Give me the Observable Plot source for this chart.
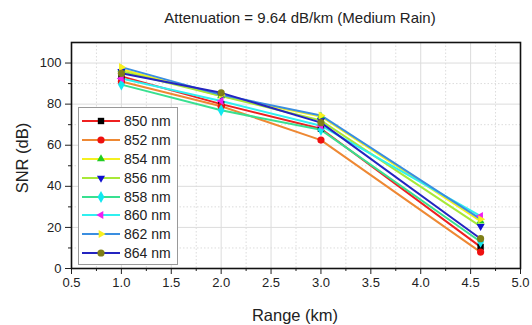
<!DOCTYPE html>
<html><head><meta charset="utf-8">
<script src="https://cdn.jsdelivr.net/npm/d3@7"></script>
<script src="https://cdn.jsdelivr.net/npm/@observablehq/plot@0.6"></script>
<style>
body{margin:0;background:#fff;font-family:"Liberation Sans",Arial,sans-serif;color:#222;}
#wrap{position:relative;width:532px;height:325px;overflow:hidden;}
#chart{position:absolute;left:0;top:0;}
#title{position:absolute;top:9px;left:70px;width:460px;text-align:center;font-size:15px;line-height:18px;}
#ylab{position:absolute;left:-38px;top:148px;width:120px;height:20px;line-height:20px;text-align:center;font-size:16.5px;transform:rotate(-90deg);}
#xlab{position:absolute;left:195px;top:305px;width:200px;height:20px;line-height:20px;text-align:center;font-size:16.5px;}
#legend{position:absolute;left:78px;top:107px;width:100px;height:158px;border:1px solid #999;background:#fff;box-sizing:border-box;padding-top:4px;}
.row{height:18.8px;display:flex;align-items:center;font-size:14px;}
.row svg{margin-left:3px;margin-right:4px;}
</style></head><body>
<div id="wrap"><div id="chart"></div>
<div id="title">Attenuation = 9.64 dB/km (Medium Rain)</div>
<div id="ylab">SNR (dB)</div>
<div id="xlab">Range (km)</div>
<div id="legend"></div>
</div>
<script>
const ranges = [1.0, 2.0, 3.0, 4.6];
const wavelengths = ["850 nm", "852 nm", "854 nm", "856 nm", "858 nm", "860 nm", "862 nm", "864 nm"];
const snr850 = [93.5, 80, 68, 10.5];
const snr852 = [91, 79, 62.5, 8];
const snr854 = [97, 84, 74, 23];
const snr856 = [96, 84, 72, 20.5];
const snr858 = [89.5, 77, 67.5, 13];
const snr860 = [92.5, 81.5, 69.5, 25.5];
const snr862 = [98, 84.5, 74.5, 24];
const snr864 = [95, 85.5, 71, 14.5];
const snrSeries = [snr850, snr852, snr854, snr856, snr858, snr860, snr862, snr864];
const lineColors = ["#ee2020", "#ee8833", "#f4f020", "#a8e838", "#38e090", "#30f0f0", "#3a8ee0", "#2424c0"];
const markerColors = ["#000000", "#ee1010", "#22cc22", "#1010d0", "#10e8f0", "#f020f0", "#f8f020", "#7f7f18"];
const xMajor = [0.5, 1.0, 1.5, 2.0, 2.5, 3.0, 3.5, 4.0, 4.5, 5.0];
const xMinor = [0.75, 1.25, 1.75, 2.25, 2.75, 3.25, 3.75, 4.25, 4.75];
const yMajor = [0, 20, 40, 60, 80, 100];
const yMinor = [10, 30, 50, 70, 90, 110];

function tri(angle) {
  return {draw(ctx, size) {
    const r = Math.sqrt(size / Math.PI) * 1.3;
    for (let k = 0; k < 3; k++) {
      const a = (angle + k * 120) * Math.PI / 180;
      const x = r * Math.cos(a), y = r * Math.sin(a);
      if (k) ctx.lineTo(x, y); else ctx.moveTo(x, y);
    }
    ctx.closePath();
  }};
}
const markerSymbols = [d3.symbolSquare, d3.symbolCircle, tri(-90), tri(90), d3.symbolDiamond, tri(180), tri(0), d3.symbolCircle];

const rows = wavelengths.map((wl, i) => ranges.map((r, j) => ({wl, range: r, snr: snrSeries[i][j]})));

const marks = [
  Plot.gridX(xMinor, {stroke: "#dcdcdc", strokeOpacity: 1, strokeDasharray: "1.5,2"}),
  Plot.gridY(yMinor, {stroke: "#dcdcdc", strokeOpacity: 1, strokeDasharray: "1.5,2"}),
  Plot.gridX(xMajor, {stroke: "#dcdcdc", strokeOpacity: 1}),
  Plot.gridY(yMajor, {stroke: "#dcdcdc", strokeOpacity: 1}),
  Plot.axisX({ticks: xMajor, tickFormat: d3.format(".1f"), tickSize: 6, tickPadding: 3, label: null, fontSize: 13}),
  Plot.axisX({ticks: xMinor, tickFormat: () => "", tickSize: 3, label: null}),
  Plot.axisY({ticks: yMajor, tickFormat: d3.format("d"), tickSize: 6, tickPadding: 4, label: null, fontSize: 13}),
  Plot.axisY({ticks: yMinor.filter(v => v < 110), tickFormat: () => "", tickSize: 3, label: null}),
  ...rows.map((d, i) => Plot.line(d, {x: "range", y: "snr", stroke: lineColors[i], strokeWidth: 2})),
  ...rows.map((d, i) => Plot.dot(d, {x: "range", y: "snr", fill: markerColors[i], r: 3.6, symbol: markerSymbols[i]})),
  Plot.frame({stroke: "#111", strokeWidth: 1.6})
];

const chart = Plot.plot({
  width: 532, height: 325,
  marginLeft: 71, marginRight: 12, marginTop: 42, marginBottom: 57,
  x: {domain: [0.5, 5.0]},
  y: {domain: [0, 110]},
  style: {fontFamily: "Liberation Sans, Arial, sans-serif", fontSize: "13px", color: "#222", background: "#fff"},
  marks
});
document.getElementById("chart").appendChild(chart);

const legend = d3.select("#legend");
wavelengths.forEach((wl, i) => {
  const row = legend.append("div").attr("class", "row");
  const svg = row.append("svg").attr("width", 38).attr("height", 12);
  svg.append("line").attr("x1", 0).attr("x2", 38).attr("y1", 6).attr("y2", 6).attr("stroke", lineColors[i]).attr("stroke-width", 2);
  svg.append("path").attr("transform", "translate(19,6)").attr("d", d3.symbol(markerSymbols[i], Math.PI * 3.6 * 3.6)()).attr("fill", markerColors[i]);
  row.append("span").text(wl);
});
</script>
</body></html>
